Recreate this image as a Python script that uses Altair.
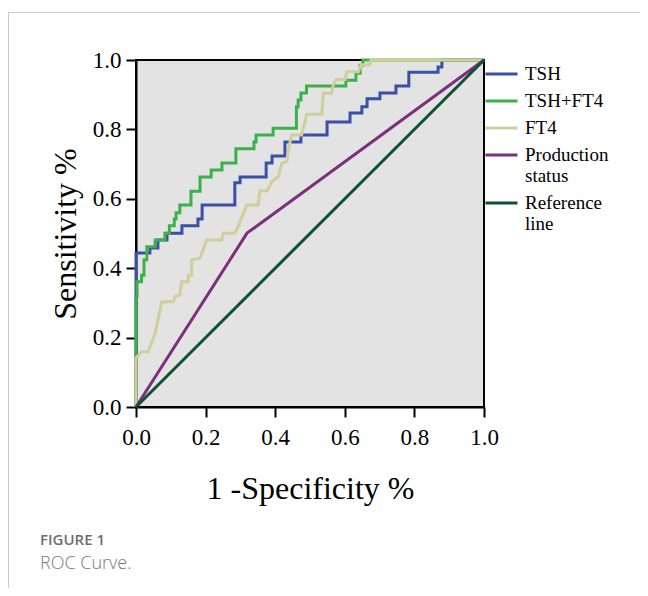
import altair as alt
import pandas as pd

series_names = ["TSH", "TSH+FT4", "FT4", "Production status", "Reference line"]
series_colors = ["#3b4fa6", "#3db04b", "#cfcf9c", "#7b2f7d", "#0f5233"]

tick_values = [0.0, 0.2, 0.4, 0.6, 0.8, 1.0]

# (1 - specificity, sensitivity) vertices
tsh_points = [(0, 0), (0, .444), (.040, .444), (.040, .458), (.063, .458), (.063, .481),
              (.089, .481), (.089, .501), (.132, .501), (.132, .522), (.178, .522), (.178, .542),
              (.190, .542), (.190, .582), (.284, .582), (.284, .646), (.299, .646), (.299, .663),
              (.374, .663), (.374, .703), (.391, .703), (.391, .723), (.428, .723), (.428, .764),
              (.474, .764), (.474, .784), (.549, .784), (.549, .821), (.615, .821), (.615, .847),
              (.649, .847), (.649, .865), (.664, .865), (.664, .888), (.701, .888), (.701, .905),
              (.747, .905), (.747, .925), (.784, .925), (.784, .965), (.868, .965), (.868, .980),
              (.879, .980), (.879, 1.0), (1.0, 1.0)]

tsh_ft4_points = [(0, 0), (0, .318), (.003, .318), (.003, .361), (.016, .361), (.016, .380),
                  (.023, .380), (.023, .424), (.031, .424), (.031, .462), (.055, .462), (.055, .481),
                  (.083, .481), (.083, .501), (.096, .501), (.096, .522), (.110, .522), (.110, .542),
                  (.115, .542), (.115, .560), (.126, .560), (.126, .582), (.158, .582), (.158, .622),
                  (.184, .622), (.184, .663), (.216, .663), (.216, .683), (.247, .683), (.247, .703),
                  (.287, .703), (.287, .744), (.339, .744), (.339, .764), (.345, .764), (.345, .784),
                  (.394, .784), (.394, .803), (.461, .803), (.461, .865), (.466, .865), (.466, .885),
                  (.474, .885), (.474, .905), (.490, .905), (.490, .925), (.603, .925), (.603, .942),
                  (.632, .942), (.632, .962), (.644, .962), (.644, .985), (.652, .985), (.652, 1.0),
                  (1.0, 1.0)]

ft4_points = [(0, 0), (0, .141), (.016, .159), (.035, .159), (.055, .212), (.074, .303),
              (.107, .303), (.112, .318), (.126, .323), (.131, .361), (.150, .361), (.150, .380),
              (.160, .380), (.160, .424), (.184, .429), (.203, .481), (.246, .481), (.251, .501),
              (.284, .501), (.294, .522), (.318, .582), (.351, .582), (.356, .623), (.377, .623),
              (.390, .649), (.409, .664), (.419, .702), (.433, .707), (.438, .741), (.447, .784),
              (.476, .784), (.491, .844), (.534, .844), (.538, .904), (.562, .904), (.567, .928),
              (.575, .944), (.601, .944), (.605, .966), (.639, .966), (.647, .986), (.672, .986),
              (.675, 1.0), (1.0, 1.0)]

production_points = [(0, 0), (0.319, 0.501), (1.0, 1.0)]
reference_points = [(0, 0), (1.0, 1.0)]

all_points = [tsh_points, tsh_ft4_points, ft4_points, production_points, reference_points]

rows = []
for name, pts in zip(series_names, all_points):
    for i, (fx, ty) in enumerate(pts):
        rows.append({"series": name, "fpr": fx, "tpr": ty, "idx": i})
df = pd.DataFrame(rows)

serif = "Liberation Serif"

lines = alt.Chart(df).mark_line(strokeWidth=3).encode(
    x=alt.X("fpr:Q",
            scale=alt.Scale(domain=[0, 1], nice=False, zero=False),
            axis=alt.Axis(values=tick_values, format=".1f", title="1 -Specificity %",
                          grid=False, labelFont=serif, labelFontSize=23, labelColor="black",
                          titleFont=serif, titleFontSize=32, titleFontWeight="normal",
                          titleColor="black", tickColor="black", tickWidth=2, tickSize=10,
                          domainColor="black", domainWidth=2, labelPadding=9,
                          titlePadding=24, labelFlush=False)),
    y=alt.Y("tpr:Q",
            scale=alt.Scale(domain=[0, 1], nice=False, zero=False),
            axis=alt.Axis(values=tick_values, format=".1f", title="Sensitivity %",
                          grid=False, labelFont=serif, labelFontSize=23, labelColor="black",
                          titleFont=serif, titleFontSize=32, titleFontWeight="normal",
                          titleColor="black", tickColor="black", tickWidth=2, tickSize=10,
                          domainColor="black", domainWidth=2, labelPadding=5,
                          titlePadding=10, labelFlush=False)),
    color=alt.Color("series:N",
                    scale=alt.Scale(domain=series_names, range=series_colors),
                    legend=alt.Legend(title=None, orient="none", legendX=356, legendY=4.5,
                                      symbolType="M-2,0H2", symbolSize=256, symbolStrokeWidth=3,
                                      labelFont=serif, labelFontSize=19, labelColor="black",
                                      labelOffset=14, rowPadding=7, padding=0, labelLimit=300,
                                      labelExpr="datum.label == 'Production status' ? ['Production', 'status'] : datum.label == 'Reference line' ? ['Reference', 'line'] : datum.label")),
    order=alt.Order("idx:Q"),
)

blank = pd.DataFrame({"k": [0]})

top_border = alt.Chart(blank).mark_rule(color="#c9c9c9", strokeWidth=1).encode(
    x=alt.value(-128), x2=alt.value(520), y=alt.value(-47.5))
left_border = alt.Chart(blank).mark_rule(color="#c9c9c9", strokeWidth=1).encode(
    x=alt.value(-127.5), y=alt.value(-48), y2=alt.value(540))

fig_label = alt.Chart(blank).mark_text(align="left", baseline="middle", font="Open Sans",
                                       fontSize=15, fontWeight=600, color="#6e6e6e").encode(
    x=alt.value(-96), y=alt.value(480), text=alt.value("FIGURE 1"))
caption = alt.Chart(blank).mark_text(align="left", baseline="middle", font="Open Sans",
                                     fontSize=18, fontWeight=300, color="#7a7a7a").encode(
    x=alt.value(-96), y=alt.value(504), text=alt.value("ROC Curve."))

chart = alt.layer(top_border, left_border, lines, fig_label, caption).properties(
    width=348, height=347,
    autosize=alt.AutoSizeParams(type="none"),
    padding={"left": 128, "top": 52, "right": 156, "bottom": 181},
    background="white",
).configure_view(fill="#e3e3e3", stroke="black", strokeWidth=2)

chart.save("out.html", embed_options={"renderer": "svg", "actions": False})
